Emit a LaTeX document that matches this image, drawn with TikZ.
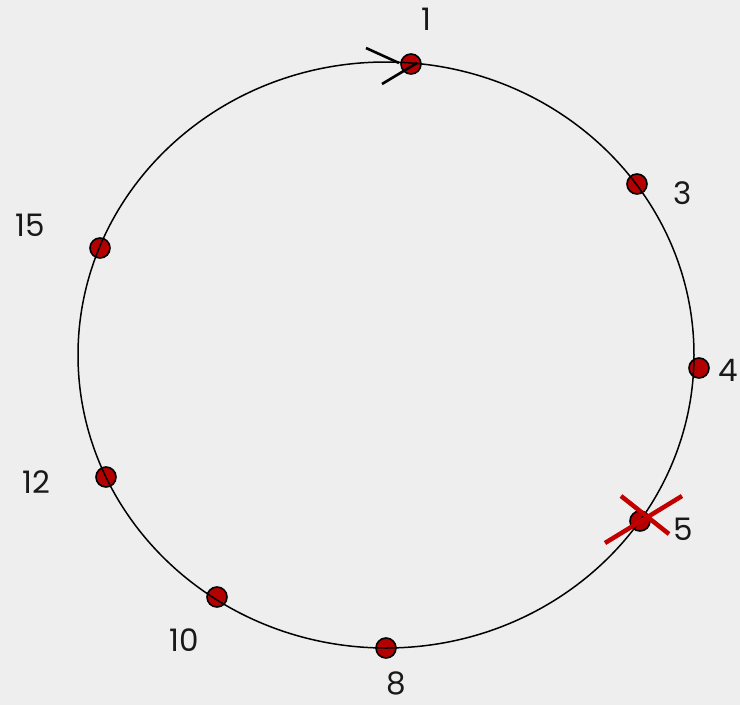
\documentclass[tikz,border=0pt]{standalone}
\usepackage{fontspec}
\setmainfont{Poppins}
\usetikzlibrary{calc}
\definecolor{bg}{RGB}{238,238,238}
\definecolor{dotred}{RGB}{180,0,0}
\definecolor{xred}{RGB}{195,0,0}
\tikzset{
  pt/.style={circle,draw=black,line width=1.6pt,fill=dotred,minimum size=20pt,inner sep=0pt},
  lab/.style={font=\fontsize{31}{37}\selectfont,text=black!90,inner sep=0pt},
  ring/.style={draw=black,line width=1.5pt},
  chev/.style={draw=black,line width=2.6pt},
  cross/.style={draw=xred,line width=4.5pt}
}
\begin{document}
\begin{tikzpicture}[x=1pt,y=-1pt]
\fill[bg] (0,0) rectangle (740,705);
\useasboundingbox (0,0) rectangle (740,705);
% dots
\node[pt] (n1) at (411,64) {};
\node[pt] (n3) at (637,184) {};
\node[pt] (n4) at (699,368) {};
\node[pt] (n5) at (640,521) {};
\node[pt] (n8) at (386,648) {};
\node[pt] (n10) at (217,597) {};
\node[pt] (n12) at (106,477) {};
\node[pt] (n15) at (100,248) {};
% ring drawn over the dots
\draw[ring] (386,355) ellipse [x radius=308, y radius=293];
% labels
\node[lab] (l1) at (426,19) {1};
\node[lab] (l3) at (683,193) {3};
\node[lab] (l4) at (728,370) {4};
\node[lab] (l5) at (683,529) {5};
\node[lab] (l8) at (396,683) {8};
\node[lab] (l10) at (184,640) {10};
\node[lab] (l12) at (36,482) {12};
\node[lab] (l15) at (30,225) {15};
% chevron at node 1
\coordinate (c1a) at (366,48);
\coordinate (c1b) at (399,63);
\coordinate (c1c) at (382,84);
\coordinate (c1d) at (417,63);
\draw[chev] (c1a) -- (c1b);
\draw[chev] (c1c) -- (c1d);
% red cross at node 5
\coordinate (x5a) at (621,496);
\coordinate (x5b) at (669,534);
\coordinate (x5c) at (682,496);
\coordinate (x5d) at (605,543);
\draw[cross] (x5a) -- (x5b);
\draw[cross] (x5c) -- (x5d);
\end{tikzpicture}
\end{document}
